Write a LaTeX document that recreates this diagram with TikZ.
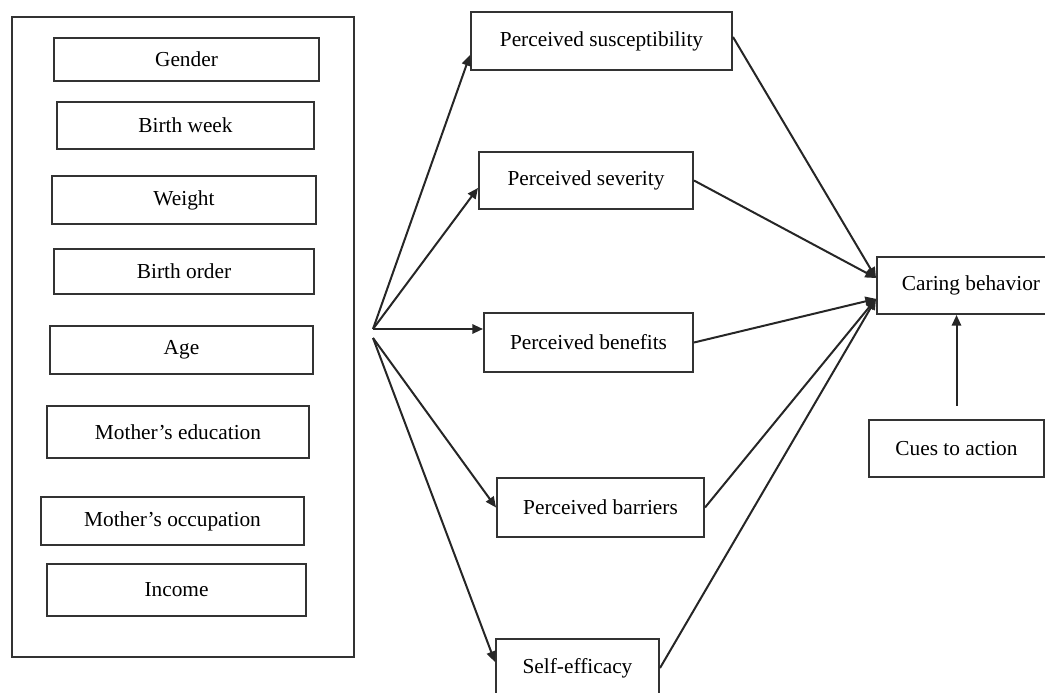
\documentclass[tikz,border=0pt]{standalone}
\usepackage{fontspec}
\setmainfont{Liberation Serif}
\usetikzlibrary{arrows.meta}

\tikzset{every picture/.style={line width=1.5pt}}
\tikzset{
  box/.style={draw=black!80, rectangle, inner sep=0pt, font=\fontsize{16}{19}\selectfont},
  arr/.style={draw=black!85, -{Triangle[length=8pt,width=7pt]}},
  lnk/.style={draw=black!85}
}

\begin{document}
\begin{tikzpicture}[x=0.75pt,y=0.75pt,yscale=-1,xscale=1]
\clip (0,0) rectangle (1045,692);

%Shape: Rectangle [outer frame]
\draw [draw=black!80]  (12,17) rectangle (354,657) ;

% Text Node
\node [box, minimum width=198.75pt, minimum height=32.25pt] (gender) at (186.5,59.5) {Gender};
% Text Node
\node [box, minimum width=192.75pt, minimum height=35.25pt] (bweek) at (185.5,125.5) {Birth week};
% Text Node
\node [box, minimum width=198pt, minimum height=36pt] (weight) at (184,200) {Weight};
% Text Node
\node [box, minimum width=195pt, minimum height=33.75pt] (border) at (184,271.5) {Birth order};
% Text Node
\node [box, minimum width=197.25pt, minimum height=36pt] (age) at (181.5,350) {Age};
% Text Node
\node [box, minimum width=196.5pt, minimum height=39pt] (medu) at (178,432) {Mother’s education};
% Text Node
\node [box, minimum width=197.25pt, minimum height=36pt] (mocc) at (172.5,521) {Mother’s occupation};
% Text Node
\node [box, minimum width=194.25pt, minimum height=39pt] (income) at (176.5,590) {Income};

% Text Node
\node [box, minimum width=195.75pt, minimum height=43.5pt] (sus) at (601.5,41) {Perceived susceptibility};
% Text Node
\node [box, minimum width=160.5pt, minimum height=42.75pt] (sev) at (586,180.5) {Perceived severity};
% Text Node
\node [box, minimum width=156.75pt, minimum height=44.25pt] (ben) at (588.5,342.5) {Perceived benefits};
% Text Node
\node [box, minimum width=155.25pt, minimum height=44.25pt] (bar) at (600.5,507.5) {Perceived barriers};
% Text Node
\node [box, minimum width=122.25pt, minimum height=43.5pt] (self) at (577.5,668) {Self-efficacy};
% Text Node
\node [box, minimum width=141pt, minimum height=42.75pt] (care) at (971,285.5) {Caring behavior};
% Text Node
\node [box, minimum width=131.25pt, minimum height=42.75pt] (cues) at (956.5,448.5) {Cues to action};

\coordinate (fan) at (373,329);
\coordinate (fanlow) at (373,338);

%Straight Lines [fan out]
\draw [arr]  (fan) -- ([yshift=10.5pt]sus.west) ;
\draw [arr]  (fan) -- ([yshift=5.6pt]sev.west) ;
\draw [arr]  (fan) -- (ben.west |- fan) ;
\draw [arr]  (fanlow) -- (bar.west) ;
\draw [arr]  (fanlow) -- ([yshift=-4.5pt]self.west) ;

%Straight Lines [into caring behavior]
\draw [arr]  ([yshift=-3pt]sus.east) -- ([yshift=-5.6pt]care.west) ;
\draw [arr]  (sev.east) -- ([yshift=-5.6pt]care.west) ;
\draw [arr]  (ben.east) -- ([yshift=10pt]care.west) ;
\draw [arr]  (bar.east) -- ([yshift=10pt]care.west) ;
\draw [arr]  (self.east) -- ([yshift=10pt]care.west) ;

%Straight Lines [cues]
\draw [arr]  ([yshift=-10pt]cues.north) -- (cues.north |- care.south) ;

\end{tikzpicture}
\end{document}
